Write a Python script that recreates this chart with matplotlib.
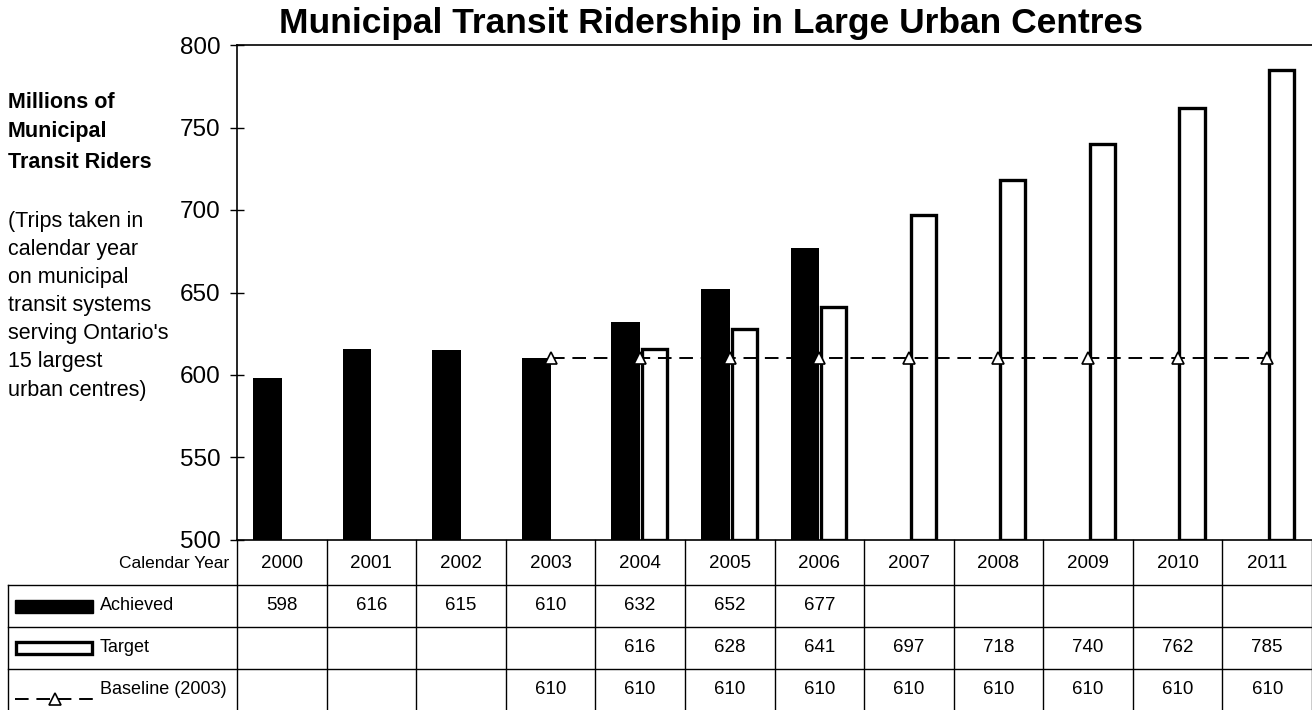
import matplotlib
matplotlib.use("Agg")
import matplotlib.pyplot as plt
import matplotlib.transforms as mtransforms
import numpy as np

years = ['2000', '2001', '2002', '2003', '2004', '2005', '2006',
         '2007', '2008', '2009', '2010', '2011']
achieved = [598, 616, 615, 610, 632, 652, 677, None, None, None, None, None]
target = [None, None, None, None, 616, 628, 641, 697, 718, 740, 762, 785]
baseline = [None, None, None, 610, 610, 610, 610, 610, 610, 610, 610, 610]

W, H = 1312, 710
fig = plt.figure(figsize=(W / 100, H / 100), dpi=100)
plt.rcParams['font.family'] = ['Liberation Sans', 'DejaVu Sans']
narrow = ['Liberation Sans Narrow', 'Liberation Sans', 'DejaVu Sans']

# main plot area in pixels: x 237..1312, y 45..540
ax = fig.add_axes([237 / W, (H - 540) / H, (W - 237) / W, 495 / H])

ach_x = np.array([i for i, v in enumerate(achieved) if v is not None])
ach_v = np.array([v for v in achieved if v is not None])
tar_x = np.array([i for i, v in enumerate(target) if v is not None])
tar_v = np.array([v for v in target if v is not None])
base_x = [i for i, v in enumerate(baseline) if v is not None]
base_v = [v for v in baseline if v is not None]

bw = 0.32
ax.bar(ach_x - bw, ach_v - 500, bottom=500, width=bw, align='edge',
       color='black', zorder=2)
ax.bar(tar_x + 0.02, tar_v - 500, bottom=500, width=0.28,
       align='edge', facecolor='white', edgecolor='black', linewidth=2.4, zorder=2)
ax.plot(base_x, base_v, color='black', linestyle=(0, (7, 4)), linewidth=1.4,
        marker='^', markersize=8, markerfacecolor='white', markeredgecolor='black',
        markeredgewidth=1.2, zorder=3)

ax.set_xlim(-0.5, len(years) - 0.5)
ax.set_ylim(500, 800)
ax.set_yticks(np.arange(500, 801, 50))
ax.tick_params(axis='y', direction='inout', length=10, width=1, labelsize=17.5, pad=7)
ax.set_xticks([])
ax.spines['right'].set_visible(False)
for s in ['left', 'bottom', 'top']:
    ax.spines[s].set_linewidth(1.2)

fig.text(711 / W, 1 - 24 / H, 'Municipal Transit Ridership in Large Urban Centres',
         ha='center', va='center', fontsize=25.5, fontweight='bold')

y0 = 102
for line in ['Millions of', 'Municipal', 'Transit Riders']:
    fig.text(8 / W, 1 - y0 / H, line, ha='left', va='center', fontsize=15.5,
             fontweight='bold')
    y0 += 30
y0 = 222
for line in ['(Trips taken in', 'calendar year', 'on municipal', 'transit systems',
             "serving Ontario's", '15 largest', 'urban centres)']:
    fig.text(8 / W, 1 - y0 / H, line, ha='left', va='center', fontsize=15.5)
    y0 += 28

# data table below the plot
tax = fig.add_axes([0, 0, 1, 170 / H])
tax.set_axis_off()
tax.set_xlim(0, W)
tax.set_ylim(710, 540)
tr = mtransforms.blended_transform_factory(ax.transData, tax.transData)

for i in range(len(years) + 1):
    tax.plot([i - 0.5, i - 0.5], [540, 710], color='black', lw=1, transform=tr,
             clip_on=False)
for yy in [585, 627, 669]:
    tax.plot([8, W], [yy, yy], color='black', lw=1, clip_on=False)
tax.plot([8, 8], [585, 710], color='black', lw=1, clip_on=False)

tax.text(229, 563, 'Calendar Year', ha='right', va='center', fontsize=12.5,
         family=narrow)
row_y = {'year': 563, 'ach': 606, 'tar': 648, 'base': 690}
for i, yr in enumerate(years):
    tax.text(i, row_y['year'], yr, ha='center', va='center', fontsize=13.5,
             transform=tr, family=narrow)
    if achieved[i] is not None:
        tax.text(i, row_y['ach'], str(achieved[i]), ha='center', va='center',
                 fontsize=13.5, transform=tr, family=narrow)
    if target[i] is not None:
        tax.text(i, row_y['tar'], str(target[i]), ha='center', va='center',
                 fontsize=13.5, transform=tr, family=narrow)
    if baseline[i] is not None:
        tax.text(i, row_y['base'], str(baseline[i]), ha='center', va='center',
                 fontsize=13.5, transform=tr, family=narrow)

# legend keys
tax.add_patch(plt.Rectangle((15, 600), 78, 13, color='black'))
tax.add_patch(plt.Rectangle((16, 642), 76, 12, facecolor='white',
                            edgecolor='black', lw=2.4))
tax.plot([15, 95], [699, 699], color='black', linestyle=(0, (7, 4)), lw=1.4)
tax.plot([55], [699], marker='^', markersize=8, markerfacecolor='white',
         markeredgecolor='black', markeredgewidth=1.2, linestyle='none')
tax.text(100, row_y['ach'], 'Achieved', ha='left', va='center', fontsize=13,
         family=narrow)
tax.text(100, row_y['tar'], 'Target', ha='left', va='center', fontsize=13,
         family=narrow)
tax.text(100, row_y['base'], 'Baseline (2003)', ha='left', va='center',
         fontsize=13, family=narrow)

fig.savefig('out.png', dpi=100)
